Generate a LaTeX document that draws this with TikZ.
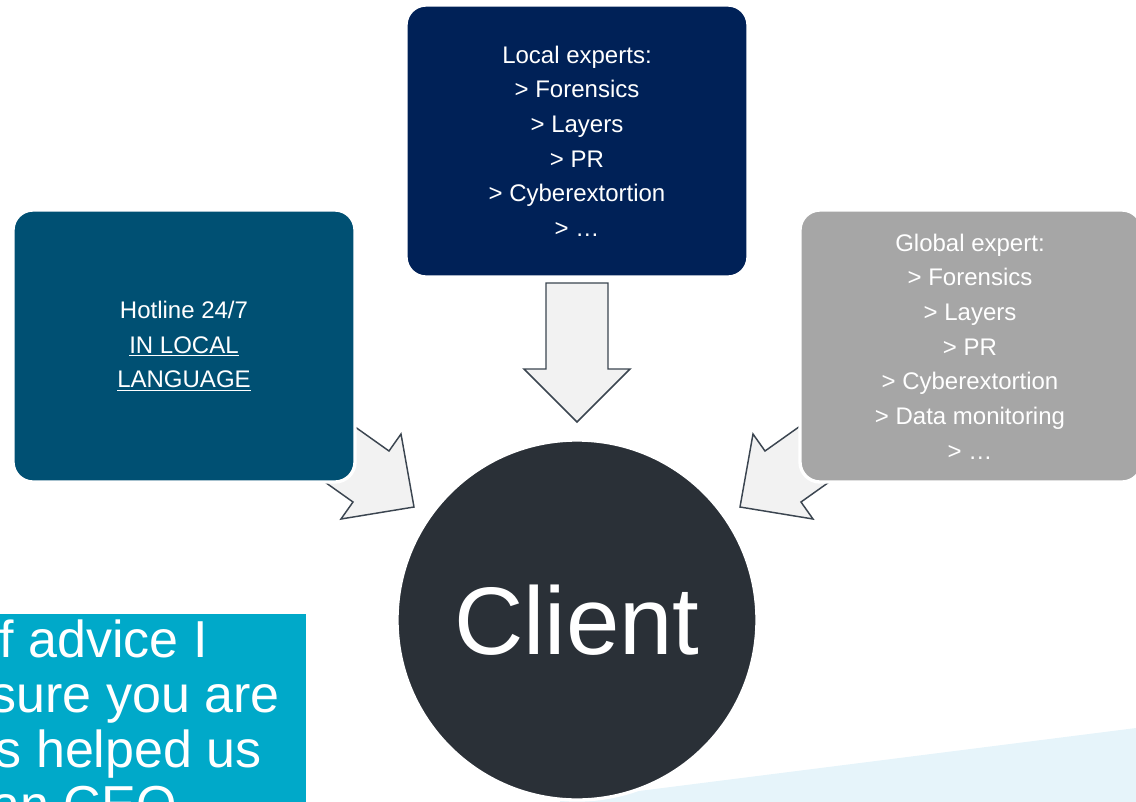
\documentclass[tikz,border=0pt]{standalone}
\usepackage{fontspec}
\setmainfont{Liberation Sans}
\usepackage{xcolor}

\definecolor{hotlineblue}{RGB}{0,80,115}
\definecolor{localnavy}{RGB}{0,33,87}
\definecolor{globalgrey}{RGB}{166,166,166}
\definecolor{clientdark}{RGB}{42,48,55}
\definecolor{advicecyan}{RGB}{0,169,201}
\definecolor{paleblue}{RGB}{230,244,250}
\definecolor{arrowfill}{RGB}{242,242,242}
\definecolor{arrowline}{RGB}{59,69,80}

\begin{document}
\begin{tikzpicture}[x=0.75pt,y=0.75pt,yscale=-1,xscale=1]
        \tikzset{
          infobox/.style={rounded corners=15pt, draw=white, line width=2.5pt},
          boxtext/.style={text=white, align=center, font=\fontsize{18}{26}\selectfont},
          advicetext/.style={text=white, inner sep=0pt, anchor=base east, font=\fontsize{39}{41}\selectfont},
          blockarrow/.style={fill=arrowfill, draw=arrowline, line width=1.1pt, line join=miter},
        }
        \useasboundingbox (0,0) rectangle (1136,801);
        \clip (0,0) rectangle (1136,801);

        %Shape: Pale band [id:band]
        \fill [paleblue] (560,801) -- (1136,728) -- (1140,728) -- (1140,805) -- (560,805) -- cycle ;
        %Shape: Advice box [id:advice]
        \fill [advicecyan] (-5,614) rectangle (306,806) ;
        \node [advicetext] (advice1) at (208,657) {f advice I};
        \node [advicetext] (advice2) at (280,712) {sure you are};
        \node [advicetext] (advice3) at (262,767) {s helped us};
        \node [advicetext] (advice4) at (177,822) {an CEO};

        %Shape: Down Arrow [id:arrowlocal]
        \draw [blockarrow] (546,283) -- (608,283) -- (608,369) -- (630,369) -- (577,422) -- (524,369) -- (546,369) -- cycle ;
        %Shape: Right Down Arrow [id:arrowhotline]
        \draw [blockarrow] (315.6,398.9) -- (389,451) -- (401,434) -- (414,507) -- (341,519) -- (353,502) -- (279.6,449.9) -- cycle ;
        %Shape: Left Down Arrow [id:arrowglobal]
        \draw [blockarrow] (838.4,398.9) -- (765,451) -- (753,434) -- (740,507) -- (813,519) -- (801,502) -- (874.4,449.9) -- cycle ;

        %Shape: Rounded Rect [id:hotlinebox]
        \draw [infobox, fill=hotlineblue] (13,210) rectangle (355,482) ;
        \node [boxtext] (hotline) at (184,346) {Hotline 24/7\\\underline{IN LOCAL}\\\underline{LANGUAGE}};
        %Shape: Rounded Rect [id:localbox]
        \draw [infobox, fill=localnavy] (406,5) rectangle (748,277) ;
        \node [boxtext] (local) at (577,141) {Local experts:\\> Forensics\\> Layers\\> PR\\> Cyberextortion\\> …};
        %Shape: Rounded Rect [id:globalbox]
        \draw [infobox, fill=globalgrey] (800,210) rectangle (1142,482) ;
        \node [boxtext] (global) at (970,346.5) {Global expert:\\> Forensics\\> Layers\\> PR\\> Cyberextortion\\> Data monitoring\\> …};

        %Shape: Circle [id:client]
        \node [circle, fill=clientdark, draw=white, line width=2.5pt, minimum size=270pt, inner sep=0pt, text=white, font=\fontsize{72}{80}\selectfont] (client) at (577,620) {Client};
\end{tikzpicture}
\end{document}
